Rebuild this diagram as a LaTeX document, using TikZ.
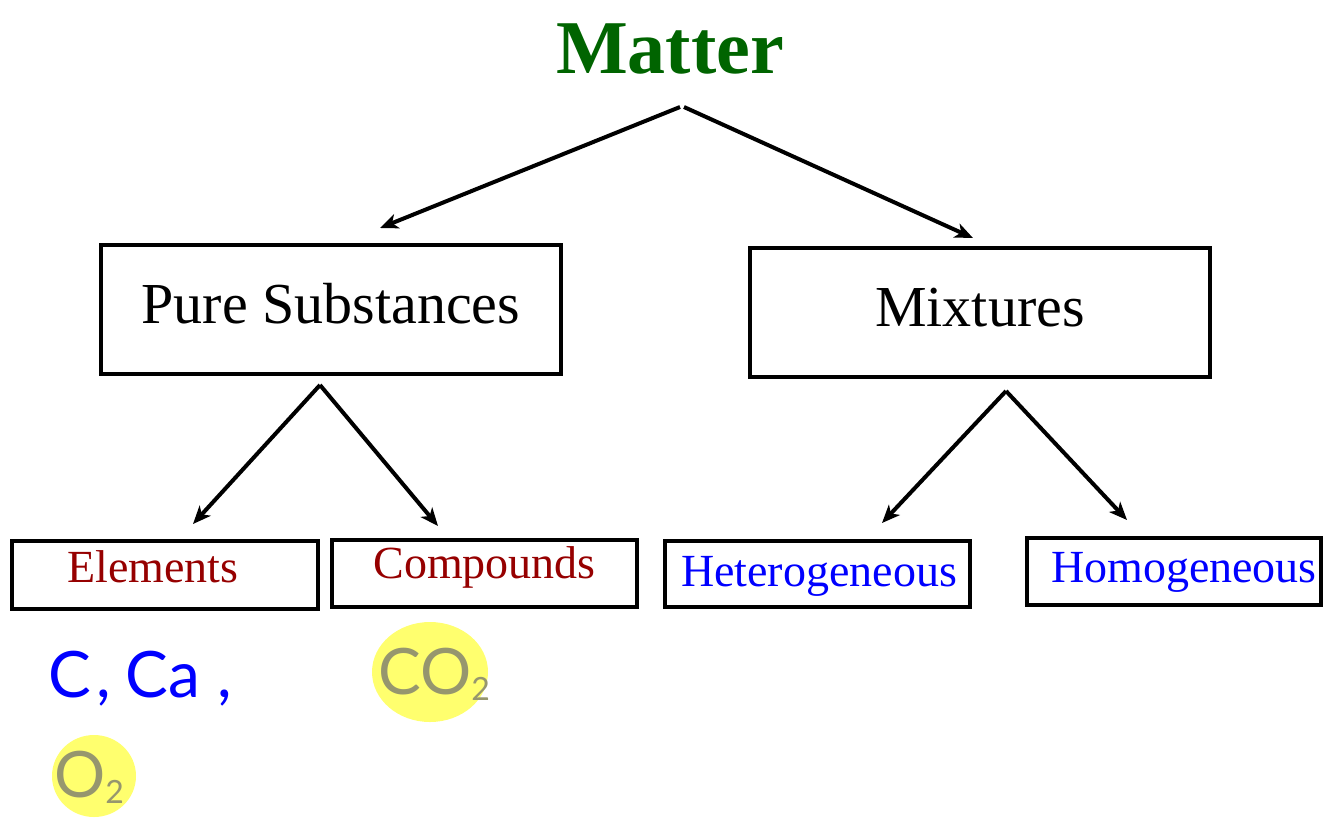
\documentclass[tikz,border=0pt]{standalone}
\usepackage{fontspec}
\setmainfont{Liberation Serif}
\newfontfamily\handfont{Lato}
\usetikzlibrary{arrows.meta}
\definecolor{mattergreen}{RGB}{0,100,0}
\definecolor{elemred}{RGB}{150,0,0}
\definecolor{labelblue}{RGB}{0,0,255}
\definecolor{hilite}{RGB}{255,255,110}
\definecolor{penblue}{RGB}{0,0,255}
\definecolor{pengray}{RGB}{150,150,110}
\begin{document}
\begin{tikzpicture}[x=1pt,y=-1pt,
  bigbox/.style={draw=black,line width=3.5pt,inner sep=0pt,minimum width=460pt,minimum height=129pt,text height=40pt,text depth=12pt,font=\fontsize{58}{60}\selectfont},
  smallbox/.style={draw=black,line width=3.5pt,inner sep=0pt},
  sublabel/.style={anchor=base,inner sep=0pt,font=\fontsize{46}{48}\selectfont},
  conn/.style={line width=4pt,-{Stealth[length=18pt,width=15pt,inset=5pt]}},
  hand/.style={inner sep=0pt,font=\handfont\fontsize{64}{64}\selectfont},
  blob/.style={fill=hilite,draw=none}]
\useasboundingbox (0,0) rectangle (1324,817);
% title
\node[anchor=base,inner sep=0pt,text=mattergreen,font=\fontsize{76}{78}\selectfont\bfseries] (matter) at (670,73) {Matter};
% main boxes
\node[bigbox] (pure) at (331,309.5) {Pure Substances};
\node[bigbox] (mix) at (980,312.5) {Mixtures};
% sub boxes
\node[smallbox,minimum width=306pt,minimum height=68pt] (elbox) at (165,575) {};
\node[smallbox,minimum width=305pt,minimum height=67pt] (cpbox) at (484.5,573.5) {};
\node[smallbox,minimum width=305pt,minimum height=66pt] (hebox) at (817.5,574) {};
\node[smallbox,minimum width=294pt,minimum height=67pt] (hobox) at (1174,571.5) {};
\node[sublabel,text=elemred] (el) at (153,582) {Elements};
\node[sublabel,text=elemred] (cp) at (484.5,578) {Compounds};
\node[sublabel,text=labelblue] (he) at (819,586) {Heterogeneous};
\node[sublabel,text=labelblue] (ho) at (1184,582) {Homogeneous};
% connector end points
\coordinate (mtopl) at (680,107);
\coordinate (mtopr) at (684,107);
\coordinate (pin) at (380,228);
\coordinate (min) at (973,238);
\coordinate (pout) at (320,385);
\coordinate (elin) at (193,524);
\coordinate (cpin) at (438,526);
\coordinate (mout) at (1006,391);
\coordinate (hein) at (882,523);
\coordinate (hoin) at (1127,520);
\draw[conn] (mtopl) -- (pin);
\draw[conn] (mtopr) -- (min);
\draw[conn] (pout) -- (elin);
\draw[conn] (pout) -- (cpin);
\draw[conn] (mout) -- (hein);
\draw[conn] (mout) -- (hoin);
% handwritten notes
\fill[blob] (430,672) ellipse [x radius=58pt,y radius=50pt];
\fill[blob] (94,776) ellipse [x radius=42pt,y radius=41pt];
\node[hand,text=penblue,anchor=base west] (cca) at (48,697) {C\kern6pt,\kern14pt Ca\kern18pt,};
\node[hand,text=pengray,anchor=base west] (co2) at (378,694) {CO\raisebox{-6pt}{\fontsize{32}{32}\selectfont 2}};
\node[hand,text=pengray,anchor=base west] (o2) at (54,797) {O\raisebox{-6pt}{\fontsize{32}{32}\selectfont 2}};
\end{tikzpicture}
\end{document}
